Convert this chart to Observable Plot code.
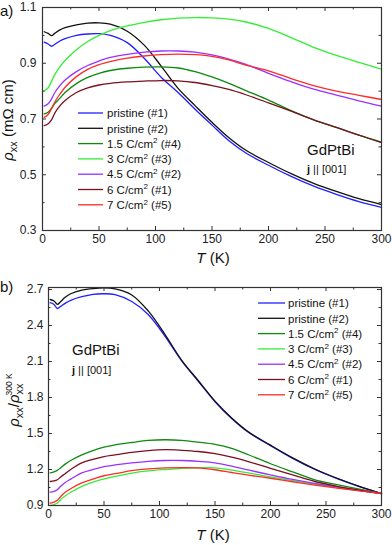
<!DOCTYPE html>
<html><head><meta charset="utf-8">
<script src="https://cdn.jsdelivr.net/npm/d3@7"></script>
<script src="https://cdn.jsdelivr.net/npm/@observablehq/plot@0.6"></script>
<style>
body{margin:0;background:#fff;font-family:"Liberation Sans",Arial,sans-serif;}
#wrap{width:392px;height:545px;position:relative;overflow:hidden;}
#wrap svg{display:block;}
</style></head><body><div id="wrap"></div>
<script>
// ---------- data ----------
const T = [1.5, 5, 8, 11, 15, 20, 30, 40, 50, 60, 75, 90, 105, 120, 135, 150, 165, 180, 200, 220, 240, 260, 280, 300];
const seriesNames = ["pristine (#1)", "pristine (#2)", "1.5 C/cm² (#4)", "3 C/cm² (#3)", "4.5 C/cm² (#2)", "6 C/cm² (#1)", "7 C/cm² (#5)"];
const seriesColors = ["#1f1fff", "#111111", "#0f8a0f", "#33ee33", "#9b30ff", "#7a1020", "#ff2a2a"];

// panel a: rho_xx (mOhm cm)
const rhoP1 = [0.976, 0.969, 0.961, 0.968, 0.979, 0.988, 1.0, 1.005, 1.006, 1.0, 0.974, 0.918, 0.85, 0.795, 0.735, 0.678, 0.622, 0.578, 0.534, 0.494, 0.459, 0.43, 0.404, 0.383];
const rhoP2 = [1.013, 1.007, 0.999, 1.008, 1.019, 1.028, 1.038, 1.044, 1.045, 1.04, 1.015, 0.965, 0.89, 0.81, 0.748, 0.688, 0.633, 0.588, 0.544, 0.504, 0.469, 0.44, 0.414, 0.393];
const rho15 = [0.718, 0.724, 0.738, 0.756, 0.773, 0.795, 0.827, 0.849, 0.864, 0.874, 0.882, 0.886, 0.887, 0.883, 0.87, 0.851, 0.828, 0.802, 0.768, 0.73, 0.697, 0.67, 0.642, 0.617];
const rho3 = [0.80, 0.812, 0.835, 0.86, 0.885, 0.91, 0.948, 0.978, 1.0, 1.017, 1.034, 1.047, 1.056, 1.062, 1.064, 1.063, 1.058, 1.048, 1.025, 0.992, 0.957, 0.928, 0.903, 0.879];
const rho45 = [0.746, 0.755, 0.772, 0.795, 0.818, 0.84, 0.87, 0.892, 0.908, 0.921, 0.932, 0.94, 0.944, 0.944, 0.94, 0.93, 0.915, 0.896, 0.864, 0.834, 0.807, 0.786, 0.765, 0.746];
const rho6 = [0.676, 0.683, 0.697, 0.722, 0.745, 0.766, 0.795, 0.812, 0.822, 0.828, 0.833, 0.836, 0.838, 0.837, 0.831, 0.82, 0.806, 0.787, 0.758, 0.728, 0.697, 0.67, 0.642, 0.615];
const rho7 = [0.706, 0.716, 0.738, 0.762, 0.787, 0.814, 0.852, 0.878, 0.895, 0.906, 0.918, 0.926, 0.931, 0.933, 0.931, 0.925, 0.912, 0.893, 0.873, 0.845, 0.82, 0.8, 0.785, 0.77];

// panel b: rho_xx / rho_xx(300 K)
const nP1 = [2.59, 2.575, 2.542, 2.56, 2.585, 2.61, 2.64, 2.66, 2.665, 2.657, 2.6, 2.49, 2.31, 2.105, 1.935, 1.765, 1.625, 1.51, 1.398, 1.292, 1.2, 1.124, 1.058, 1.0];
const nP2 = [2.617, 2.605, 2.576, 2.6, 2.635, 2.665, 2.695, 2.708, 2.714, 2.705, 2.655, 2.52, 2.325, 2.11, 1.94, 1.77, 1.63, 1.515, 1.403, 1.297, 1.204, 1.127, 1.06, 1.0];
const n15 = [1.172, 1.18, 1.193, 1.215, 1.245, 1.275, 1.322, 1.358, 1.386, 1.405, 1.425, 1.442, 1.448, 1.443, 1.428, 1.41, 1.376, 1.323, 1.248, 1.18, 1.114, 1.074, 1.037, 1.0];
const n3 = [0.9, 0.907, 0.92, 0.95, 0.98, 1.01, 1.06, 1.095, 1.122, 1.142, 1.17, 1.188, 1.2, 1.21, 1.214, 1.214, 1.195, 1.172, 1.138, 1.107, 1.077, 1.05, 1.025, 1.0];
const n45 = [1.011, 1.018, 1.032, 1.06, 1.092, 1.12, 1.172, 1.2, 1.224, 1.238, 1.255, 1.268, 1.275, 1.275, 1.267, 1.255, 1.228, 1.196, 1.155, 1.117, 1.084, 1.055, 1.028, 1.0];
const n6 = [1.1, 1.105, 1.115, 1.138, 1.165, 1.2, 1.255, 1.285, 1.308, 1.322, 1.342, 1.357, 1.365, 1.36, 1.35, 1.332, 1.303, 1.266, 1.21, 1.155, 1.1, 1.06, 1.027, 1.0];
const n7 = [0.919, 0.928, 0.943, 0.975, 1.01, 1.04, 1.088, 1.12, 1.148, 1.165, 1.19, 1.205, 1.213, 1.215, 1.213, 1.198, 1.175, 1.153, 1.127, 1.098, 1.07, 1.045, 1.022, 1.0];

// ticks
const xTicksMajor = [0, 50, 100, 150, 200, 250, 300];
const xTicksMinor = [25, 75, 125, 175, 225, 275];
const yTicksA = [0.3, 0.5, 0.7, 0.9, 1.1];
const yTicksAMinor = [0.4, 0.6, 0.8, 1.0];
const yTicksB = [0.9, 1.2, 1.5, 1.8, 2.1, 2.4, 2.7];
const yTicksBMinor = [1.05, 1.35, 1.65, 1.95, 2.25, 2.55];

// ---------- build ----------
function longTable(series) {
  const rows = [];
  series.forEach((vals, i) => vals.forEach((v, j) => rows.push({T: T[j], v, s: seriesNames[i]})));
  return rows;
}
const rowsA = longTable([rhoP1, rhoP2, rho15, rho3, rho45, rho6, rho7]);
const rowsB = longTable([nP1, nP2, n15, n3, n45, n6, n7]);

const FONT = "Liberation Sans, Arial, Helvetica, sans-serif";
const tickColor = "#333";

function tickMarks(innerW, innerH, yMaj, yMin) {
  const s = {stroke: tickColor, strokeWidth: 1};
  const M = 4, m = 2.5;
  return [
    Plot.ruleX(xTicksMajor, {x: d => d, insetTop: innerH - M, ...s}),
    Plot.ruleX(xTicksMajor, {x: d => d, insetBottom: innerH - M, ...s}),
    Plot.ruleX(xTicksMinor, {x: d => d, insetTop: innerH - m, ...s}),
    Plot.ruleX(xTicksMinor, {x: d => d, insetBottom: innerH - m, ...s}),
    Plot.ruleY(yMaj, {y: d => d, insetRight: innerW - M, ...s}),
    Plot.ruleY(yMaj, {y: d => d, insetLeft: innerW - M, ...s}),
    Plot.ruleY(yMin, {y: d => d, insetRight: innerW - m, ...s}),
    Plot.ruleY(yMin, {y: d => d, insetLeft: innerW - m, ...s})
  ];
}

function makePanel({rows, height, mt, mb, ml, mr, yDomain, yMaj, yMin, yPad}) {
  const innerW = 392 - ml - mr, innerH = height - mt - mb;
  return Plot.plot({
    width: 392, height,
    marginTop: mt, marginBottom: mb, marginLeft: ml, marginRight: mr,
    style: {fontFamily: FONT, fontSize: "12px", color: "#222", background: "white", overflow: "visible"},
    x: {domain: [0, 300]},
    y: {domain: yDomain},
    color: {domain: seriesNames, range: seriesColors},
    marks: [
      Plot.line(rows, {x: "T", y: "v", z: "s", stroke: "s", strokeWidth: 1.3, curve: "catmull-rom"}),
      ...tickMarks(innerW, innerH, yMaj, yMin),
      Plot.frame({stroke: "#333", strokeWidth: 1.2}),
      Plot.axisX({ticks: xTicksMajor, anchor: "bottom", tickSize: 0, tickPadding: 4, fontSize: 12, label: null}),
      Plot.axisY({ticks: yMaj, anchor: "left", tickSize: 0, tickPadding: yPad, fontSize: 12, tickFormat: d => d.toFixed(1), label: null})
    ]
  });
}

const svgA = makePanel({rows: rowsA, height: 275, mt: 7, mb: 45, ml: 42, mr: 11, yDomain: [0.3, 1.1], yMaj: yTicksA, yMin: yTicksAMinor, yPad: 6});
const svgB = makePanel({rows: rowsB, height: 270, mt: 12, mb: 40, ml: 48, mr: 11, yDomain: [0.9, 2.717], yMaj: yTicksB, yMin: yTicksBMinor, yPad: 5});
document.getElementById("wrap").append(svgA, svgB);

// ---------- decorations (text) ----------
function addText(svg, x, y, size, parts, opts = {}) {
  const t = d3.select(svg).append("text").attr("x", x).attr("y", y)
    .attr("font-family", FONT).attr("font-size", size).attr("fill", "#111")
    .attr("text-anchor", opts.anchor || "start");
  if (opts.rotate) t.attr("transform", `rotate(-90 ${x} ${y})`).attr("text-anchor", "middle");
  parts.forEach(p => {
    const s = t.append("tspan").text(p.t);
    if (p.italic) s.attr("font-style", "italic");
    if (p.bold) s.attr("font-weight", "bold");
    if (p.size) s.attr("font-size", p.size);
    if (p.dy) s.attr("dy", p.dy);
    if (p.dx) s.attr("dx", p.dx);
  });
  return t;
}

function addLegend(svg, x0, x1, xt, y0, step) {
  const g = d3.select(svg).append("g");
  seriesNames.forEach((nm, i) => {
    const y = y0 + i * step;
    g.append("line").attr("x1", x0).attr("x2", x1).attr("y1", y).attr("y2", y)
      .attr("stroke", seriesColors[i]).attr("stroke-width", 1.3);
    const t = g.append("text").attr("x", xt).attr("y", y + 4.2).attr("text-anchor", "start")
      .attr("font-family", FONT).attr("font-size", 11.5).attr("fill", "#111");
    const pieces = nm.split("²");
    if (pieces.length === 1) t.text(nm);
    else {
      t.append("tspan").text(pieces[0]);
      t.append("tspan").text("2").attr("font-size", 8).attr("dy", -4.5);
      t.append("tspan").text(pieces[1]).attr("dy", 4.5);
    }
  });
}

// panel a
addText(svgA, 0, 16, 15, [{t: "a)"}]);
addText(svgA, 13, 120, 15, [{t: "ρ", italic: true}, {t: "xx", size: 11, dy: 4}, {t: " (mΩ cm)", dy: -4}], {rotate: true});
addText(svgA, 213, 263, 15, [{t: "T", italic: true}, {t: " (K)"}], {anchor: "middle"});
addText(svgA, 307, 155, 15, [{t: "GdPtBi"}]);
addText(svgA, 307, 173, 11, [{t: "j", bold: true}, {t: " || [001]"}]);
addLegend(svgA, 78, 103, 107, 113, 15.3);

// panel b (local coords: page y - 275)
addText(svgB, 19, 125, 15, [
  {t: "ρ", italic: true}, {t: "xx", size: 11, dy: 4}, {t: "/", dy: -4},
  {t: "ρ", italic: true}, {t: "xx", size: 11, dy: 4}, {t: "300 K", size: 8.5, dy: -11, dx: -12}
], {rotate: true});
addText(svgB, 0, 17, 15, [{t: "b)"}]);
addText(svgB, 213, 265, 15, [{t: "T", italic: true}, {t: " (K)"}], {anchor: "middle"});
addText(svgB, 72, 80, 15, [{t: "GdPtBi"}]);
addText(svgB, 72, 99, 11, [{t: "j", bold: true}, {t: " || [001]"}]);
addLegend(svgB, 258, 285, 288, 28, 15.3);
</script></body></html>
